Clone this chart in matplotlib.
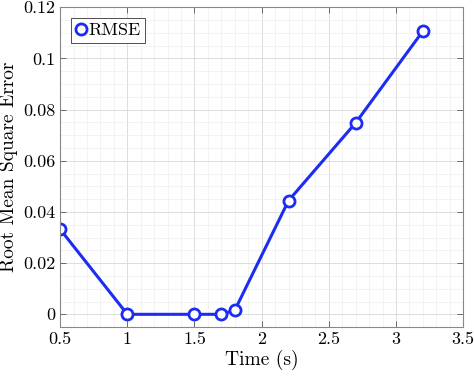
import matplotlib
matplotlib.use('Agg')
import matplotlib.pyplot as plt
from matplotlib.ticker import MultipleLocator
from matplotlib import rcParams

rcParams['font.family'] = 'cmr10'
rcParams['mathtext.fontset'] = 'cm'
rcParams['axes.formatter.use_mathtext'] = True

time_s = [0.5, 1.0, 1.5, 1.7, 1.8, 2.2, 2.7, 3.2]
rmse = [0.0332, 0.0000, 0.0000, 0.0000, 0.0016, 0.0444, 0.0748, 0.1106]

x_ticks = [0.5, 1, 1.5, 2, 2.5, 3, 3.5]
x_tick_labels = ['0.5', '1', '1.5', '2', '2.5', '3', '3.5']
y_ticks = [0, 0.02, 0.04, 0.06, 0.08, 0.1, 0.12]
y_tick_labels = ['0', '0.02', '0.04', '0.06', '0.08', '0.1', '0.12']

fig = plt.figure(figsize=(4.74, 3.76), dpi=100)
ax = fig.add_axes([0.127, 0.130, 0.850, 0.851])

ax.plot(time_s, rmse, color='#1c2cf2', linewidth=2.2, marker='o',
        markersize=8, markerfacecolor='white', markeredgewidth=2.0,
        label='RMSE')

ax.set_xlim(0.5, 3.5)
ax.set_ylim(-0.005, 0.12)
ax.set_xticks(x_ticks)
ax.set_xticklabels(x_tick_labels)
ax.set_yticks(y_ticks)
ax.set_yticklabels(y_tick_labels)
ax.xaxis.set_minor_locator(MultipleLocator(0.1))
ax.yaxis.set_minor_locator(MultipleLocator(0.005))

ax.grid(which='major', color='#d8d8d8', linewidth=0.6)
ax.grid(which='minor', color='#efefef', linewidth=0.5)
ax.set_axisbelow(True)

ax.tick_params(which='both', direction='in', top=True, right=True,
               labelsize=13, color='#555555')
ax.tick_params(which='major', length=4, width=0.6)
ax.tick_params(which='minor', length=0)
for s in ax.spines.values():
    s.set_color('#888888')
    s.set_linewidth(0.8)

ax.set_xlabel('Time (s)', fontsize=14, labelpad=2)
ax.set_ylabel('Root Mean Square Error', fontsize=14, labelpad=4)

leg = ax.legend(loc='upper left', fontsize=13, handlelength=0.6,
                handletextpad=0.1, borderpad=0.25, fancybox=False,
                framealpha=1, borderaxespad=0.6)
leg.get_frame().set_edgecolor('#333333')
leg.get_frame().set_linewidth(0.6)

fig.savefig('out.png', dpi=100)
